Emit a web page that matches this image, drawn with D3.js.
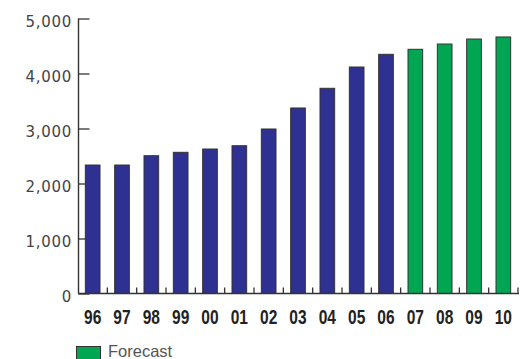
<!DOCTYPE html>
<html><head><meta charset="utf-8">
<script src="https://cdn.jsdelivr.net/npm/d3@7"></script>
<style>body{margin:0;background:#fff}svg{display:block}</style>
</head><body>
<svg id="c" width="524" height="359"></svg>
<script>
const years = ["96","97","98","99","00","01","02","03","04","05","06","07","08","09","10"];
const values = [2336,2336,2505,2567,2627,2687,2991,3373,3731,4118,4349,4440,4536,4627,4664];
const forecast = [false,false,false,false,false,false,false,false,false,false,false,true,true,true,true];
const yTicks = [0,1000,2000,3000,4000,5000];
const legendLabel = "Forecast";

const svg = d3.select("#c");
const x = d3.scaleBand().domain(years).range([78,518]).paddingInner(0.5).paddingOuter(0.25);
const y = d3.scaleLinear().domain([0,5000]).range([293.5,18.5]);
const blue = "#2e3192", green = "#00a651", ink = "#333";

// y axis
const ya = svg.append("g").attr("transform","translate(78.5,0)")
  .call(d3.axisRight(y).tickValues(yTicks).tickSize(11).tickFormat(""));
ya.select(".domain").remove();
ya.selectAll("line").attr("stroke",ink).attr("stroke-width",1.3);
svg.append("line").attr("x1",78.5).attr("x2",78.5).attr("y1",y(5000)).attr("y2",y(0))
  .attr("stroke",ink).attr("stroke-width",1.4);
svg.append("g").selectAll("text").data(yTicks).join("text")
  .attr("x",72).attr("y",d=>y(d)+8).attr("text-anchor","end")
  .attr("font-family","DejaVu Sans").attr("font-size",15).attr("letter-spacing",0.7)
  .attr("fill","#444").text(d=>d3.format(",")(d));

// bars
svg.append("g").selectAll("rect").data(years).join("rect")
  .attr("x",d=>x(d)).attr("width",x.bandwidth())
  .attr("y",(d,i)=>y(values[i])).attr("height",(d,i)=>y(0)-y(values[i]))
  .attr("fill",(d,i)=>forecast[i]?green:blue).attr("stroke",ink).attr("stroke-width",1);

// x axis
svg.append("line").attr("x1",78).attr("x2",519).attr("y1",293.5).attr("y2",293.5)
  .attr("stroke",ink).attr("stroke-width",1.4);
const step = x.step();
svg.append("g").selectAll("line").data(years).join("line")
  .attr("x1",d=>x(d)+x.bandwidth()+ (step - x.bandwidth())/2)
  .attr("x2",d=>x(d)+x.bandwidth()+ (step - x.bandwidth())/2)
  .attr("y1",293.5).attr("y2",287.5).attr("stroke",ink).attr("stroke-width",1.3);
svg.append("g").selectAll("text").data(years).join("text")
  .attr("transform",d=>`translate(${x(d)+x.bandwidth()/2},324) scale(0.74,1)`)
  .attr("text-anchor","middle")
  .attr("font-family","Liberation Sans").attr("font-weight","bold")
  .attr("font-size",21).attr("fill","#222").text(d=>d);

// legend
svg.append("rect").attr("x",76.5).attr("y",346.5).attr("width",24).attr("height",13)
  .attr("fill",green).attr("stroke",ink).attr("stroke-width",1);
svg.append("text").attr("x",108).attr("y",357).attr("font-family","Liberation Sans")
  .attr("font-size",16.5).attr("fill","#555").text(legendLabel);
</script>
</body></html>
